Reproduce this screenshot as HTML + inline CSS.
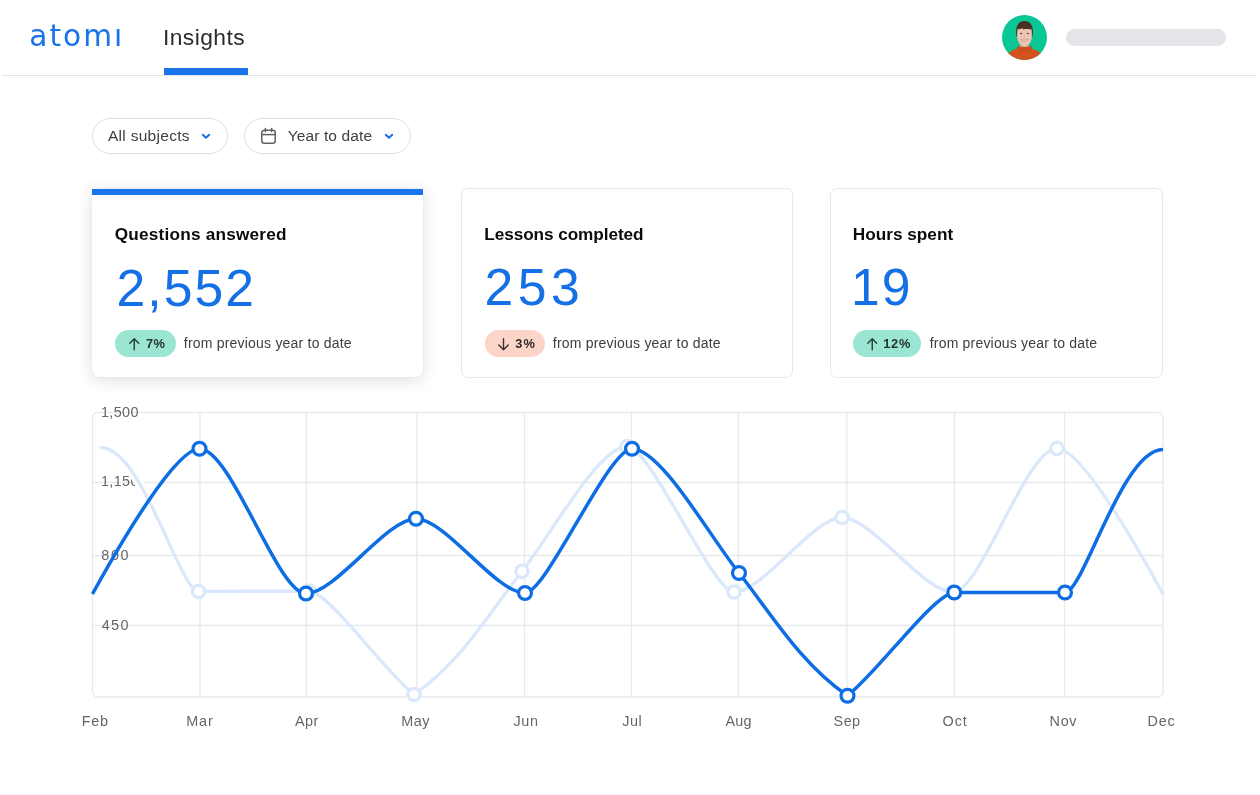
<!DOCTYPE html>
<html lang="en"><head><meta charset="utf-8"><title>Atomi Insights</title>
<style>
html,body{margin:0;padding:0;background:#fff;}
body{width:1260px;height:795px;position:relative;overflow:hidden;font-family:"Liberation Sans",sans-serif;}
.t{position:absolute;line-height:1;white-space:nowrap;}
.abs{position:absolute;display:block;}
.chart{position:absolute;left:0;top:0;font-family:"Liberation Sans",sans-serif;}
.hline{position:absolute;left:2px;top:74.8px;width:1255px;height:1.4px;background:#e1e4e8;}
.tab{position:absolute;left:163.5px;top:67.5px;width:84px;height:7px;background:#1a73e8;}
.pill{position:absolute;box-sizing:border-box;border:1px solid #dfe1e4;border-radius:18px;background:#fff;}
.card{position:absolute;box-sizing:border-box;background:#fff;border:1px solid #e6e8eb;border-radius:7px;}
.card1{border:none;border-radius:0 0 7px 7px;box-shadow:0 3px 16px rgba(60,70,90,.17),0 0 2px rgba(60,70,90,.10);}
.bar{position:absolute;left:92.2px;top:189px;width:330.5px;height:6.3px;background:#1a74ec;}
.badge{position:absolute;border-radius:14px;height:27px;top:330px;}
.ph{position:absolute;left:1066px;top:29.3px;width:160px;height:16.3px;border-radius:8.2px;background:#e3e5e8;}
</style></head><body>
<header>
<div class="hline"></div><div class="tab"></div>
<div class="t" style="left:29.22px;top:21.96px;font-size:29.6px;letter-spacing:2.035px;color:#1a73e8;font-family:'DejaVu Sans','Liberation Sans',sans-serif">atomi</div>
<div class="abs" style="left:111px;top:18px;width:11px;height:9.6px;background:#fff"></div>
<div class="t " style="left:162.90px;top:26.20px;font-size:22.8px;letter-spacing:0.443px;color:#2a2c30;">Insights</div>
<svg class="abs" style="left:1002px;top:14.8px" width="45" height="45" viewBox="0 0 45 45">
<defs><clipPath id="av"><circle cx="22.5" cy="22.5" r="22.5"/></clipPath></defs>
<g clip-path="url(#av)">
<rect width="45" height="45" fill="#08c795"/>
<path d="M3,45 C4.5,37.5 10,35.2 15.5,33.6 L29.5,33.6 C35,35.2 40.5,37.5 42,45 Z" fill="#d4521f"/>
<rect x="18" y="27" width="9" height="6" fill="#d2a08a"/>
<path d="M15.6,30.6 C18.5,32.8 26.5,32.8 29.4,30.6 L30,35 C25.5,37 19.5,37 15,35 Z" fill="#cc4c1c"/>
<path d="M14.2,19 C13.4,9.5 17.5,6 22.5,6 C27.5,6 31.6,9.5 30.8,19 L30.2,22 L14.8,22 Z" fill="#4b2f22"/>
<path d="M15.2,17 C15.2,14.5 16,13.6 16.6,13.2 C20,13.8 25,13.6 28.4,13 C29.2,13.6 29.8,14.8 29.8,17 L29.8,21.5 C29.8,27 26.5,31.2 22.5,31.2 C18.5,31.2 15.2,27 15.2,21.5 Z" fill="#ecc6b3"/>
<path d="M16.4,14.6 C18.5,14.4 20.5,13 21.6,10.6 C21.8,12.4 21.4,13.6 20.8,14.4 C23.5,14.2 26.6,13.6 28.8,14.8 C28.6,11 26,8.6 22.5,8.6 C19,8.6 16.6,11 16.4,14.6 Z" fill="#4b2f22"/>
<path d="M18.6,24.4 C20.6,26.9 24.4,26.9 26.4,24.4 C24.4,25.2 20.6,25.2 18.6,24.4 Z" fill="#f6ebe6" stroke="#b87a6c" stroke-width="0.55"/>
<ellipse cx="19.2" cy="18.6" rx="1.25" ry="0.75" fill="#6b4b42"/><ellipse cx="25.8" cy="18.6" rx="1.25" ry="0.75" fill="#6b4b42"/>
<path d="M22.5,19.5 L22,22.4 L23.2,22.5" fill="none" stroke="#d9a894" stroke-width="0.6"/>
</g></svg>
<div class="ph"></div>
</header>
<main>
<section class="filters">
<div class="pill" style="left:92px;top:118.2px;width:135.6px;height:35.6px"></div>
<div class="pill" style="left:244px;top:118.2px;width:166.6px;height:35.6px"></div>
<div class="t " style="left:107.97px;top:128.08px;font-size:15.5px;letter-spacing:0.291px;color:#3c4043;">All subjects</div>
<svg class="abs" style="left:200px;top:131.7px" width="12" height="8.600000000000023" viewBox="-2 -2 12 8.600000000000023"><path d="M0.8,0.8 L4.0,3.800000000000023 L7.2,0.8" fill="none" stroke="#1a73e8" stroke-width="2" stroke-linecap="round" stroke-linejoin="round"/></svg>
<svg class="abs" style="left:260px;top:127px" width="17" height="18" viewBox="-1 -1 17 18"><rect x="0.75" y="2.25" width="13.5" height="13" rx="2.5" fill="none" stroke="#5f6368" stroke-width="1.5"/><line x1="0.75" y1="6.6" x2="14.25" y2="6.6" stroke="#5f6368" stroke-width="1.5"/><line x1="4.4" y1="0.6" x2="4.4" y2="3.6" stroke="#5f6368" stroke-width="1.5" stroke-linecap="round"/><line x1="10.6" y1="0.6" x2="10.6" y2="3.6" stroke="#5f6368" stroke-width="1.5" stroke-linecap="round"/></svg>
<div class="t " style="left:287.66px;top:128.08px;font-size:15.5px;letter-spacing:0.126px;color:#3c4043;">Year to date</div>
<svg class="abs" style="left:383px;top:131.7px" width="12" height="8.600000000000023" viewBox="-2 -2 12 8.600000000000023"><path d="M0.8,0.8 L4.0,3.800000000000023 L7.2,0.8" fill="none" stroke="#1a73e8" stroke-width="2" stroke-linecap="round" stroke-linejoin="round"/></svg>
</section>
<section class="cards">
<div class="card card1" style="left:92px;top:189px;width:331.2px;height:187.8px"></div><div class="bar"></div>
<div class="card" style="left:460.5px;top:187.5px;width:332.5px;height:190px"></div>
<div class="card" style="left:830px;top:187.5px;width:332.5px;height:190px"></div>
<div class="t " style="left:114.79px;top:225.84px;font-size:17.2px;letter-spacing:0.212px;color:#0b0b0c;font-weight:700;">Questions answered</div>
<div class="t " style="left:116.40px;top:262.74px;font-size:51.7px;letter-spacing:2.081px;color:#156fe5;">2,552</div>
<div class="badge" style="left:115.1px;width:60.9px;background:#9ae6d2"></div>
<svg class="abs" style="left:128px;top:336.7px" width="12.5" height="14.5" viewBox="-1 -1 12.5 14.5"><path d="M5.25,11.8 L5.25,0.9 M0.8,5.25 L5.25,0.8 L9.7,5.25" fill="none" stroke="#2b3a36" stroke-width="1.4" stroke-linecap="round" stroke-linejoin="round"/></svg>
<div class="t " style="left:145.95px;top:337.76px;font-size:12.8px;letter-spacing:0.387px;color:#26332f;font-weight:700;">7%</div>
<div class="t " style="left:183.80px;top:335.65px;font-size:14px;letter-spacing:0.207px;color:#3c4043;">from previous year to date</div>
<div class="t " style="left:484.35px;top:225.84px;font-size:17.2px;letter-spacing:-0.081px;color:#0b0b0c;font-weight:700;">Lessons completed</div>
<div class="t " style="left:484.40px;top:262.24px;font-size:51.7px;letter-spacing:4.556px;color:#156fe5;">253</div>
<div class="badge" style="left:484.5px;width:60px;background:#fcd5c9"></div>
<svg class="abs" style="left:496.5px;top:336.7px" width="13.0" height="14.5" viewBox="-1 -1 13.0 14.5"><path d="M5.5,0.7 L5.5,11.6 M0.8,7.0 L5.5,11.7 L10.2,7.0" fill="none" stroke="#3a2f2c" stroke-width="1.4" stroke-linecap="round" stroke-linejoin="round"/></svg>
<div class="t " style="left:515.21px;top:337.76px;font-size:12.8px;letter-spacing:1.131px;color:#33292a;font-weight:700;">3%</div>
<div class="t " style="left:552.80px;top:335.65px;font-size:14px;letter-spacing:0.207px;color:#3c4043;">from previous year to date</div>
<div class="t " style="left:852.85px;top:225.84px;font-size:17.2px;letter-spacing:0.002px;color:#0b0b0c;font-weight:700;">Hours spent</div>
<div class="t " style="left:851.06px;top:262.24px;font-size:51.7px;letter-spacing:1.881px;color:#156fe5;">19</div>
<div class="badge" style="left:852.8px;width:68.7px;background:#9ae6d2"></div>
<svg class="abs" style="left:865.5px;top:336.7px" width="12.5" height="14.5" viewBox="-1 -1 12.5 14.5"><path d="M5.25,11.8 L5.25,0.9 M0.8,5.25 L5.25,0.8 L9.7,5.25" fill="none" stroke="#2b3a36" stroke-width="1.4" stroke-linecap="round" stroke-linejoin="round"/></svg>
<div class="t " style="left:883.19px;top:337.76px;font-size:12.8px;letter-spacing:0.762px;color:#26332f;font-weight:700;">12%</div>
<div class="t " style="left:929.80px;top:335.65px;font-size:14px;letter-spacing:0.187px;color:#3c4043;">from previous year to date</div>
</section>
<figure style="margin:0">
<svg class="chart" width="1260" height="795" viewBox="0 0 1260 795">
<rect x="92.5" y="412.5" width="1070.5" height="284.5" rx="5" fill="#fff" stroke="#e7e9eb" stroke-width="1.3"/>
<line x1="200" y1="412.5" x2="200" y2="697" stroke="#e7e9eb" stroke-width="1.3"/>
<line x1="306.25" y1="412.5" x2="306.25" y2="697" stroke="#e7e9eb" stroke-width="1.3"/>
<line x1="416.75" y1="412.5" x2="416.75" y2="697" stroke="#e7e9eb" stroke-width="1.3"/>
<line x1="524.5" y1="412.5" x2="524.5" y2="697" stroke="#e7e9eb" stroke-width="1.3"/>
<line x1="631.5" y1="412.5" x2="631.5" y2="697" stroke="#e7e9eb" stroke-width="1.3"/>
<line x1="738.25" y1="412.5" x2="738.25" y2="697" stroke="#e7e9eb" stroke-width="1.3"/>
<line x1="846.75" y1="412.5" x2="846.75" y2="697" stroke="#e7e9eb" stroke-width="1.3"/>
<line x1="954.5" y1="412.5" x2="954.5" y2="697" stroke="#e7e9eb" stroke-width="1.3"/>
<line x1="1064.5" y1="412.5" x2="1064.5" y2="697" stroke="#e7e9eb" stroke-width="1.3"/>
<line x1="92.5" y1="482.5" x2="1163" y2="482.5" stroke="#e7e9eb" stroke-width="1.3"/>
<line x1="92.5" y1="555.5" x2="1163" y2="555.5" stroke="#e7e9eb" stroke-width="1.3"/>
<line x1="92.5" y1="625.5" x2="1163" y2="625.5" stroke="#e7e9eb" stroke-width="1.3"/>
<text x="100.90" y="417" font-size="14.4" fill="#63676c" letter-spacing="0.406">1,500</text>
<text x="100.90" y="486.25" font-size="14.4" fill="#63676c" letter-spacing="0.406">1,150</text>
<text x="101.37" y="560.25" font-size="14.4" fill="#63676c" letter-spacing="1.581">800</text>
<text x="101.67" y="629.5" font-size="14.4" fill="#63676c" letter-spacing="1.434">450</text>
<text x="81.82" y="726.25" font-size="14.4" fill="#63676c" letter-spacing="0.736">Feb</text>
<text x="186.32" y="726.25" font-size="14.4" fill="#63676c" letter-spacing="0.811">Mar</text>
<text x="294.97" y="726.25" font-size="14.4" fill="#63676c" letter-spacing="0.429">Apr</text>
<text x="401.32" y="726.25" font-size="14.4" fill="#63676c" letter-spacing="0.503">May</text>
<text x="513.52" y="726.25" font-size="14.4" fill="#63676c" letter-spacing="0.596">Jun</text>
<text x="622.27" y="726.25" font-size="14.4" fill="#63676c" letter-spacing="0.515">Jul</text>
<text x="725.47" y="726.25" font-size="14.4" fill="#63676c" letter-spacing="0.167">Aug</text>
<text x="833.60" y="726.25" font-size="14.4" fill="#63676c" letter-spacing="0.443">Sep</text>
<text x="942.57" y="726.25" font-size="14.4" fill="#63676c" letter-spacing="0.943">Oct</text>
<text x="1049.57" y="726.25" font-size="14.4" fill="#63676c" letter-spacing="0.686">Nov</text>
<text x="1147.57" y="726.25" font-size="14.4" fill="#63676c" letter-spacing="0.727">Dec</text>
<clipPath id="hc"><rect x="118" y="462" width="36" height="36"/></clipPath>
<path d="M101.00,447.50C141.95,447.50 179.97,591.50 198.50,591.50C228.34,591.50 279.17,591.00 309.00,591.00C330.00,593.10 382.50,669.30 414.00,694.50C461.52,662.19 492.84,607.70 522.00,571.25C550.35,535.81 598.65,446.50 627.00,446.50C650.54,446.50 712.60,592.00 734.00,592.00C763.16,592.00 812.84,517.50 842.00,517.50C871.97,517.50 923.03,592.00 953.00,592.00C981.08,592.00 1025.80,448.40 1057.00,448.40C1080.32,448.40 1133.32,539.98 1163.00,594.00" fill="none" stroke="#fff" stroke-width="9.5" clip-path="url(#hc)"/>
<path d="M101.00,447.50C141.95,447.50 179.97,591.50 198.50,591.50C228.34,591.50 279.17,591.00 309.00,591.00C330.00,593.10 382.50,669.30 414.00,694.50C461.52,662.19 492.84,607.70 522.00,571.25C550.35,535.81 598.65,446.50 627.00,446.50C650.54,446.50 712.60,592.00 734.00,592.00C763.16,592.00 812.84,517.50 842.00,517.50C871.97,517.50 923.03,592.00 953.00,592.00C981.08,592.00 1025.80,448.40 1057.00,448.40C1080.32,448.40 1133.32,539.98 1163.00,594.00" fill="none" stroke="#dbe8fb" stroke-width="3.3" stroke-linecap="round"/>
<circle cx="198.5" cy="591.5" r="6.2" fill="#fff" stroke="#dbe8fb" stroke-width="3.2"/>
<circle cx="309" cy="591" r="6.2" fill="#fff" stroke="#dbe8fb" stroke-width="3.2"/>
<circle cx="414" cy="694.5" r="6.2" fill="#fff" stroke="#dbe8fb" stroke-width="3.2"/>
<circle cx="522" cy="571.25" r="6.2" fill="#fff" stroke="#dbe8fb" stroke-width="3.2"/>
<circle cx="627" cy="446.5" r="6.2" fill="#fff" stroke="#dbe8fb" stroke-width="3.2"/>
<circle cx="734" cy="592" r="6.2" fill="#fff" stroke="#dbe8fb" stroke-width="3.2"/>
<circle cx="842" cy="517.5" r="6.2" fill="#fff" stroke="#dbe8fb" stroke-width="3.2"/>
<circle cx="953" cy="592" r="6.2" fill="#fff" stroke="#dbe8fb" stroke-width="3.2"/>
<circle cx="1057" cy="448.4" r="6.2" fill="#fff" stroke="#dbe8fb" stroke-width="3.2"/>
<path d="M92.50,594.00C122.46,539.47 175.96,448.75 199.50,448.75C231.45,448.75 277.25,593.50 306.00,593.50C335.70,593.50 386.30,518.75 416.00,518.75C445.43,518.75 495.57,593.00 525.00,593.00C546.40,593.00 608.46,448.75 632.00,448.75C660.89,448.75 710.11,536.89 739.00,573.00C768.29,609.62 799.76,663.29 847.50,695.75C879.52,670.13 932.90,594.63 954.25,592.50C984.15,592.50 1035.10,592.50 1065.00,592.50C1083.62,592.50 1121.84,449.50 1163.00,449.50" fill="none" stroke="#0d6de4" stroke-width="3.5"/>
<circle cx="199.5" cy="448.75" r="6.45" fill="#fff" stroke="#0d6de4" stroke-width="3.2"/>
<circle cx="306" cy="593.5" r="6.45" fill="#fff" stroke="#0d6de4" stroke-width="3.2"/>
<circle cx="416" cy="518.75" r="6.45" fill="#fff" stroke="#0d6de4" stroke-width="3.2"/>
<circle cx="525" cy="593" r="6.45" fill="#fff" stroke="#0d6de4" stroke-width="3.2"/>
<circle cx="632" cy="448.75" r="6.45" fill="#fff" stroke="#0d6de4" stroke-width="3.2"/>
<circle cx="739" cy="573" r="6.45" fill="#fff" stroke="#0d6de4" stroke-width="3.2"/>
<circle cx="847.5" cy="695.75" r="6.45" fill="#fff" stroke="#0d6de4" stroke-width="3.2"/>
<circle cx="954.25" cy="592.5" r="6.45" fill="#fff" stroke="#0d6de4" stroke-width="3.2"/>
<circle cx="1065" cy="592.5" r="6.45" fill="#fff" stroke="#0d6de4" stroke-width="3.2"/>
</svg>
</figure>
</main>
</body></html>
